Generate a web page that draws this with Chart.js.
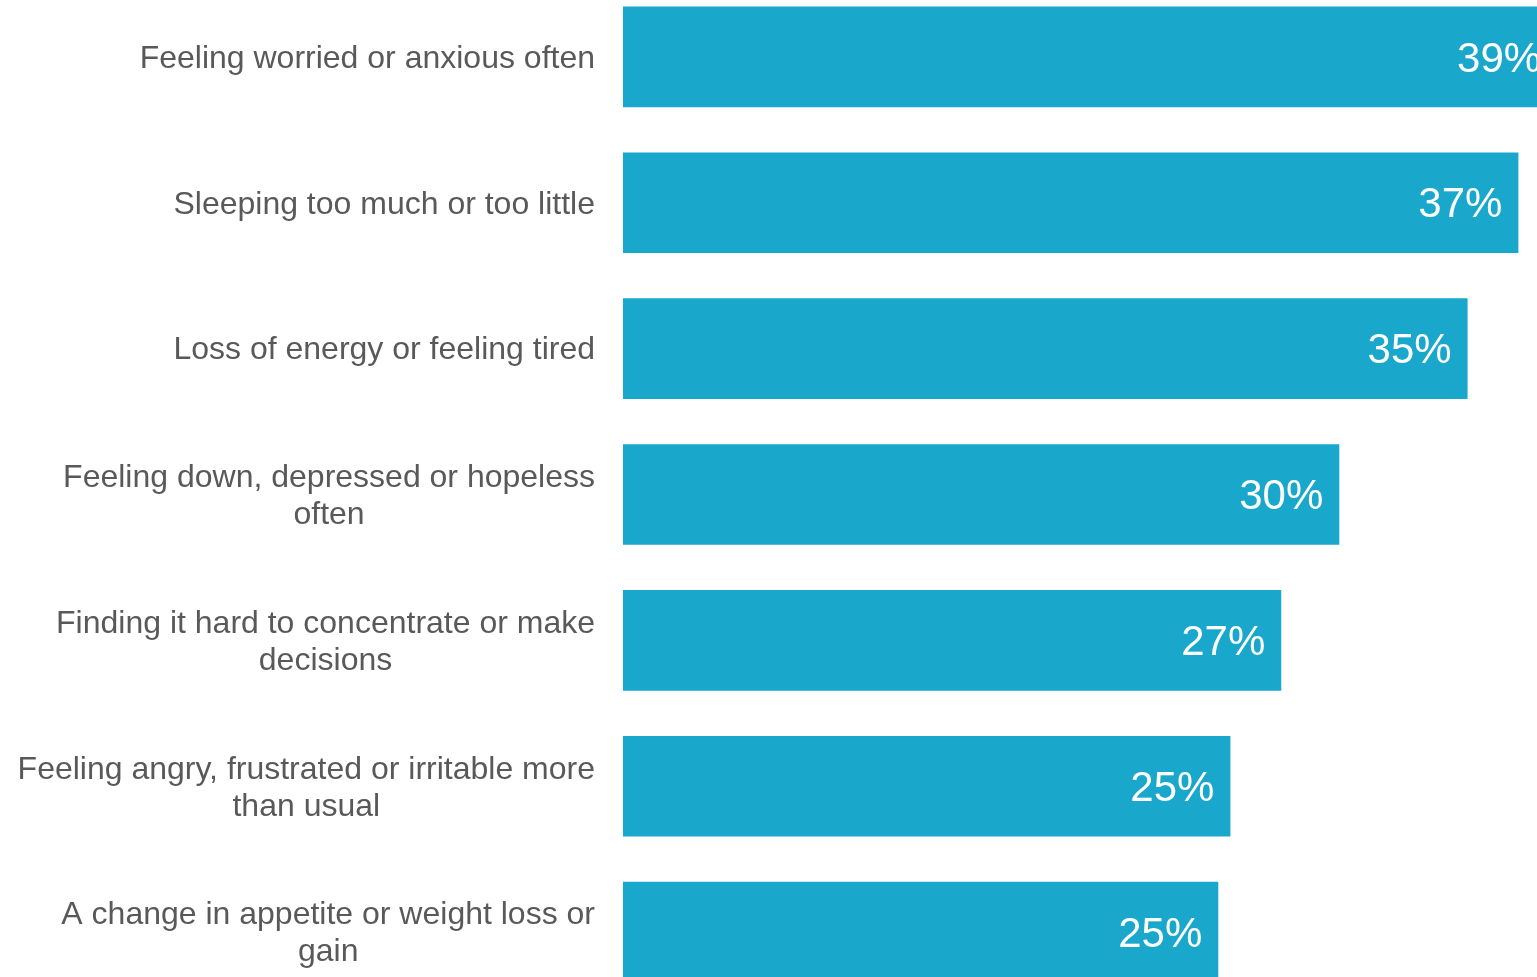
<!DOCTYPE html>
<html>
<head>
<meta charset="utf-8">
<script src="https://cdn.jsdelivr.net/npm/chart.js@4/dist/chart.umd.min.js"></script>
<style>
    html, body { margin: 0; padding: 0; background: #ffffff; overflow: hidden; }
    #wrap { position: absolute; left: 0; top: -16px; width: 1591px; height: 1021px; }
</style>
</head>
<body>
<div id="wrap"><canvas id="symptomsChart"></canvas></div>
<script>
const categories = [
    'Feeling worried or anxious often',
    'Sleeping too much or too little',
    'Loss of energy or feeling tired',
    ['Feeling down, depressed or hopeless', 'often'],
    ['Finding it hard to concentrate or make', 'decisions'],
    ['Feeling angry, frustrated or irritable more', 'than usual'],
    ['A change in appetite or weight loss or', 'gain']
];
const shares = [38.6, 37.0, 34.9, 29.6, 27.2, 25.1, 24.6];

const FONT_FAMILY = '"Liberation Sans", Arial, sans-serif';

// category names: block right-aligned to the bars, lines centred inside the block
const categoryLabels = {
    id: 'categoryLabels',
    afterDraw(chart) {
        const ctx = chart.ctx;
        const yScale = chart.scales.y;
        const right = chart.chartArea.left - 28;
        const lineHeight = 37;
        ctx.save();
        ctx.font = '32px ' + FONT_FAMILY;
        ctx.fillStyle = '#595959';
        ctx.textAlign = 'center';
        ctx.textBaseline = 'middle';
        categories.forEach((label, i) => {
            const lines = Array.isArray(label) ? label : [label];
            const widest = Math.max(...lines.map(l => ctx.measureText(l).width));
            const cx = right - widest / 2;
            const y0 = yScale.getPixelForTick(i) + 2 - (lines.length - 1) * lineHeight / 2;
            lines.forEach((line, j) => {
                ctx.fillText(line, cx, y0 + j * lineHeight);
            });
        });
        ctx.restore();
    }
};

// white percentage labels inside the right end of each bar
const barLabels = {
    id: 'barLabels',
    afterDatasetsDraw(chart) {
        const ctx = chart.ctx;
        const meta = chart.getDatasetMeta(0);
        ctx.save();
        ctx.font = '42px ' + FONT_FAMILY;
        ctx.fillStyle = '#ffffff';
        ctx.textAlign = 'right';
        ctx.textBaseline = 'middle';
        meta.data.forEach((bar, i) => {
            ctx.fillText(Math.round(shares[i]) + '%', bar.x - 16, bar.y + 3);
        });
        ctx.restore();
    }
};

function createSymptomsChart() {
    const ctx = document.getElementById('symptomsChart').getContext('2d');

    return new Chart(ctx, {
        type: 'bar',
        data: {
            labels: categories,
            datasets: [{
                data: shares,
                backgroundColor: '#19a7cb',
                borderWidth: 0,
                categoryPercentage: 1,
                barPercentage: 0.69
            }]
        },
        options: {
            indexAxis: 'y',
            responsive: true,
            maintainAspectRatio: false,
            animation: false,
            layout: { padding: 0 },
            scales: {
                x: {
                    display: false,
                    min: 0,
                    max: 40
                },
                y: {
                    afterFit(scale) {
                        scale.width = 623;
                        scale.paddingTop = 0;
                        scale.paddingBottom = 0;
                    },
                    grid: { display: false, drawTicks: false },
                    border: { display: false },
                    ticks: { display: false }
                }
            },
            plugins: {
                legend: { display: false },
                tooltip: { enabled: false }
            }
        },
        plugins: [barLabels, categoryLabels]
    });
}

document.addEventListener('DOMContentLoaded', createSymptomsChart);
</script>
</body>
</html>
